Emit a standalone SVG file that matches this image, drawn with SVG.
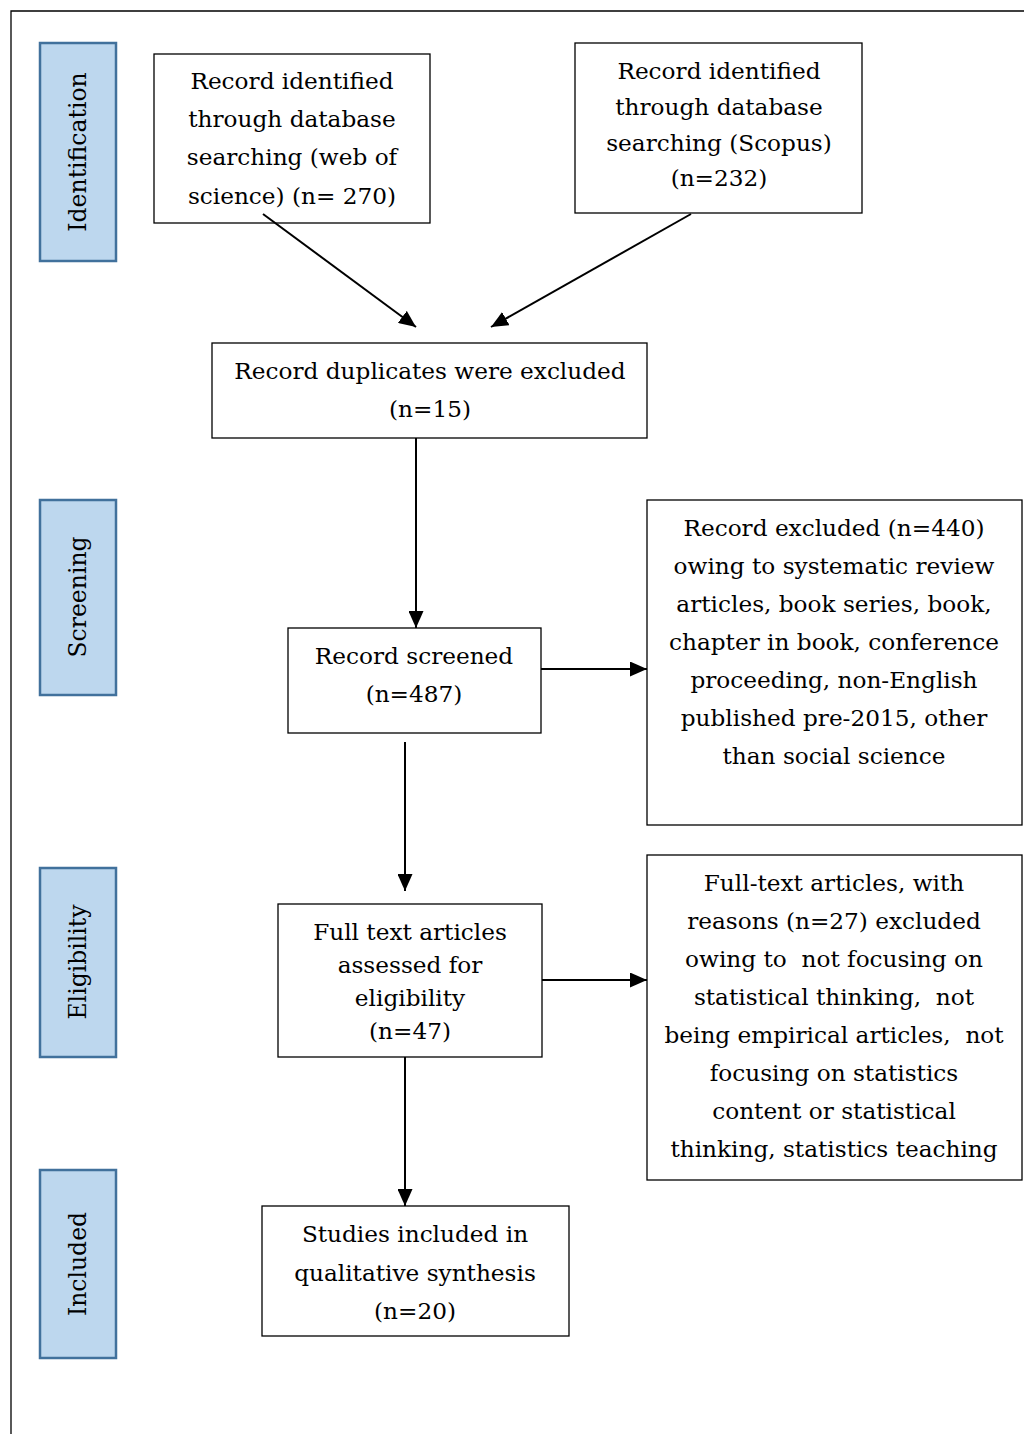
<svg xmlns="http://www.w3.org/2000/svg" width="1024" height="1434" viewBox="0 0 1024 1434">
<style>
.box{fill:#fff;stroke:#000;stroke-width:1.3}
.phase{fill:#BDD7EE;stroke:#41719C;stroke-width:2.5}
.t{font-family:"DejaVu Serif","Liberation Serif",serif;font-size:23.2px;fill:#000;text-anchor:middle}
.lab{font-family:"DejaVu Serif","Liberation Serif",serif;font-size:23.5px;fill:#000;text-anchor:middle}
.c{stroke:#000;stroke-width:2;fill:none;marker-end:url(#ah)}
</style>
<defs>
<marker id="ah" viewBox="0 0 17 15" refX="17" refY="7.5" markerWidth="17" markerHeight="15" markerUnits="userSpaceOnUse" orient="auto">
<path d="M0,0 L17,7.5 L0,15 Z" fill="#000"/>
</marker>
</defs>
<rect width="1024" height="1434" fill="#fff"/>
<path d="M11,1434 V11 H1024" fill="none" stroke="#000" stroke-width="1.3"/>

<g id="phase-identification"><rect class="phase" x="40" y="43" width="76" height="218"/><text class="lab" transform="translate(86,152) rotate(-90)">Identification</text></g>
<g id="phase-screening"><rect class="phase" x="40" y="500" width="76" height="195"/><text class="lab" transform="translate(86,597) rotate(-90)">Screening</text></g>
<g id="phase-eligibility"><rect class="phase" x="40" y="868" width="76" height="189"/><text class="lab" transform="translate(86,962) rotate(-90)">Eligibility</text></g>
<g id="phase-included"><rect class="phase" x="40" y="1170" width="76" height="188"/><text class="lab" transform="translate(86,1264) rotate(-90)">Included</text></g>

<g id="n-wos"><rect class="box" x="154" y="54" width="276" height="169"/>
<text class="t" x="292" y="89">Record identified</text><text class="t" x="292" y="127">through database</text><text class="t" x="292" y="165">searching (web of</text><text class="t" x="292" y="204">science) (n= 270)</text></g>

<g id="n-scopus"><rect class="box" x="575" y="43" width="287" height="170"/>
<text class="t" x="719" y="79">Record identified</text><text class="t" x="719" y="115">through database</text><text class="t" x="719" y="151">searching (Scopus)</text><text class="t" x="719" y="186">(n=232)</text></g>

<g id="n-dup"><rect class="box" x="212" y="343" width="435" height="95"/>
<text class="t" x="430" y="379">Record duplicates were excluded</text><text class="t" x="430" y="417">(n=15)</text></g>

<g id="n-screened"><rect class="box" x="288" y="628" width="253" height="105"/>
<text class="t" x="414" y="664">Record screened</text><text class="t" x="414" y="702">(n=487)</text></g>

<g id="n-excl1"><rect class="box" x="647" y="500" width="375" height="325"/>
<text class="t" x="834" y="536">Record excluded (n=440)</text><text class="t" x="834" y="574">owing to systematic review</text><text class="t" x="834" y="612">articles, book series, book,</text><text class="t" x="834" y="650">chapter in book, conference</text><text class="t" x="834" y="688">proceeding, non-English</text><text class="t" x="834" y="726">published pre-2015, other</text><text class="t" x="834" y="764">than social science</text></g>

<g id="n-fulltext"><rect class="box" x="278" y="904" width="264" height="153"/>
<text class="t" x="410" y="940">Full text articles</text><text class="t" x="410" y="973">assessed for</text><text class="t" x="410" y="1006">eligibility</text><text class="t" x="410" y="1039">(n=47)</text></g>

<g id="n-excl2"><rect class="box" x="647" y="855" width="375" height="325"/>
<text class="t" x="834" y="891">Full-text articles, with</text><text class="t" x="834" y="929">reasons (n=27) excluded</text><text class="t" x="834" y="967" xml:space="preserve">owing to  not focusing on</text><text class="t" x="834" y="1005" xml:space="preserve">statistical thinking,  not</text><text class="t" x="834" y="1043" xml:space="preserve">being empirical articles,  not</text><text class="t" x="834" y="1081">focusing on statistics</text><text class="t" x="834" y="1119">content or statistical</text><text class="t" x="834" y="1157">thinking, statistics teaching</text></g>

<g id="n-included"><rect class="box" x="262" y="1206" width="307" height="130"/>
<text class="t" x="415" y="1242">Studies included in</text><text class="t" x="415" y="1281">qualitative synthesis</text><text class="t" x="415" y="1319">(n=20)</text></g>

<g id="connectors">
<line class="c" x1="263" y1="214" x2="416" y2="327"/>
<line class="c" x1="691" y1="214" x2="491" y2="327"/>
<line class="c" x1="416" y1="438" x2="416" y2="628"/>
<line class="c" x1="541" y1="669" x2="647" y2="669"/>
<line class="c" x1="405" y1="742" x2="405" y2="891"/>
<line class="c" x1="542" y1="980" x2="647" y2="980"/>
<line class="c" x1="405" y1="1057" x2="405" y2="1206"/>
</g>
</svg>
